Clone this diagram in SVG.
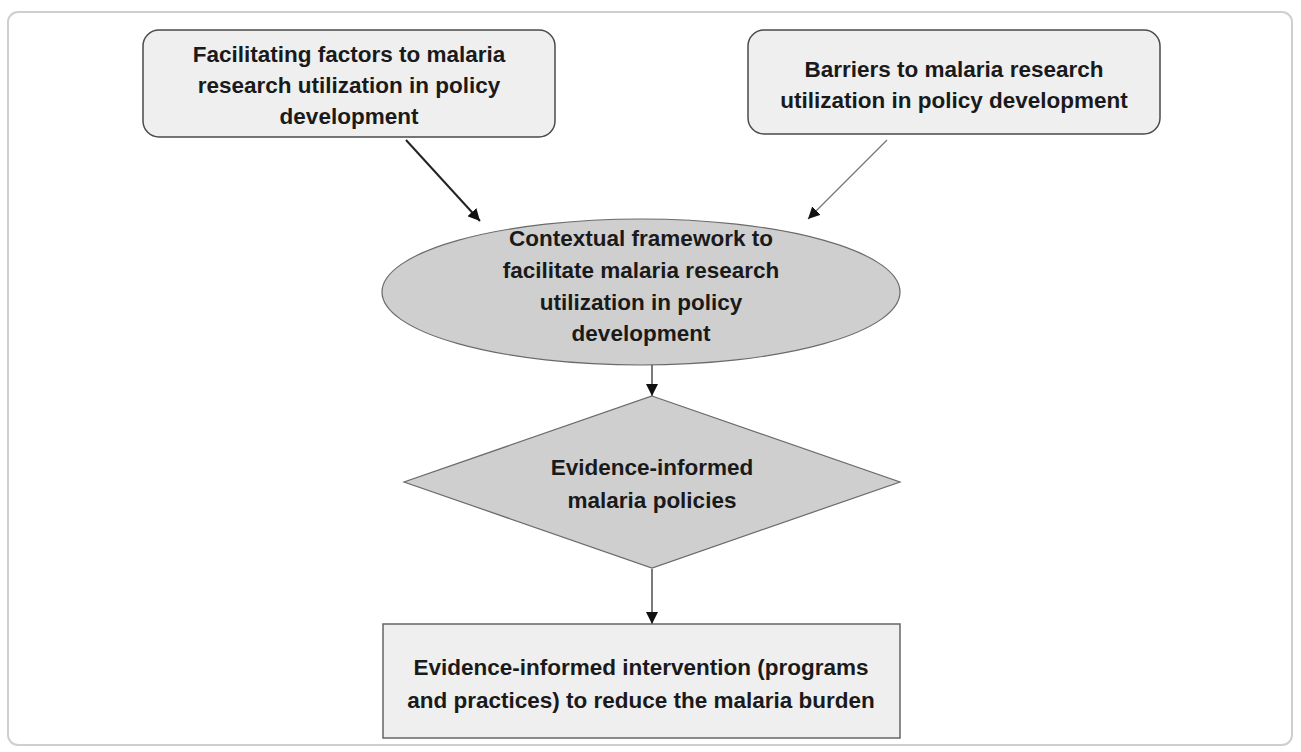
<svg xmlns="http://www.w3.org/2000/svg" width="1301" height="752" viewBox="0 0 1301 752">
<style>
text{font-family:"Liberation Sans",Arial,sans-serif;font-weight:bold;font-size:22.5px;fill:#1a1a1a;text-anchor:middle}
.box{fill:#efefef;stroke:#4a4a4a;stroke-width:1.5}
.shape{fill:#cfcfcf;stroke:#6a6a6a;stroke-width:1.2}
.c{fill:none;stroke:#333;stroke-width:1.3}
</style>
<defs>
<marker id="ah" viewBox="0 0 10 10" refX="10" refY="5" markerWidth="12" markerHeight="12" markerUnits="userSpaceOnUse" orient="auto">
<path d="M0,0 L10,5 L0,10 Z" fill="#111"/>
</marker>
</defs>
<rect x="0" y="0" width="1301" height="752" fill="#fff"/>
<rect x="8" y="12" width="1284" height="733" rx="10" fill="#fff" stroke="#cfcfcf" stroke-width="2"/>
<g id="connectors">
<line class="c" x1="406" y1="140" x2="480" y2="221" style="stroke:#222;stroke-width:2" marker-end="url(#ah)"/>
<line class="c" x1="887" y1="140" x2="808" y2="219" style="stroke:#777;stroke-width:1.2" marker-end="url(#ah)"/>
<line class="c" x1="652" y1="364" x2="652" y2="396" marker-end="url(#ah)"/>
<line class="c" x1="652" y1="569" x2="652" y2="624" marker-end="url(#ah)"/>
</g>
<g id="facilitating">
<rect class="box" x="143" y="30" width="412" height="107" rx="16"/>
<text x="349" y="62">Facilitating factors to malaria</text>
<text x="349" y="93">research utilization in policy</text>
<text x="349" y="124">development</text>
</g>
<g id="barriers">
<rect class="box" x="748" y="30" width="412" height="104" rx="16"/>
<text x="954" y="77">Barriers to malaria research</text>
<text x="954" y="108">utilization in policy development</text>
</g>
<g id="framework">
<ellipse class="shape" cx="641" cy="292" rx="259" ry="73"/>
<text x="641" y="246">Contextual framework to</text>
<text x="641" y="278">facilitate malaria research</text>
<text x="641" y="310">utilization in policy</text>
<text x="641" y="341">development</text>
</g>
<g id="policies">
<polygon class="shape" points="652,396 900,482 652,568 404,482"/>
<text x="652" y="475">Evidence-informed</text>
<text x="652" y="508">malaria policies</text>
</g>
<g id="intervention">
<rect x="383" y="624" width="517" height="114" fill="#efefef" stroke="#666" stroke-width="1.5"/>
<text x="641" y="675">Evidence-informed intervention (programs</text>
<text x="641" y="708">and practices) to reduce the malaria burden</text>
</g>
</svg>
